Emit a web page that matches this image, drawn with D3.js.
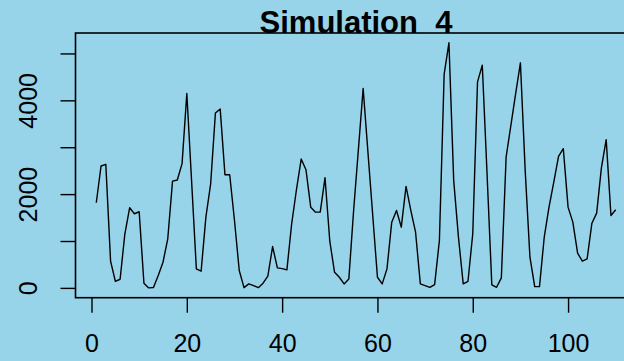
<!DOCTYPE html>
<html>
<head>
<meta charset="utf-8">
<script src="https://cdn.jsdelivr.net/npm/d3@7"></script>
<style>
  html, body { margin: 0; padding: 0; background: #97d3e9; }
  svg { display: block; }
  text { font-family: "Liberation Sans", Arial, Helvetica, sans-serif; fill: #000; }
</style>
</head>
<body>
<svg id="chart" width="624" height="361"></svg>
<script>
// Simulated series, one value per step (1..110)
const steps = d3.range(1, 111);
const values = [
  1816, 2600, 2635, 570, 141, 184, 1154, 1709, 1581, 1624,
  100, 0, 8, 263, 547, 1047, 2278, 2300, 2650, 4145,
  2278, 405, 356, 1510, 2220, 3730, 3817, 2414, 2414, 1438,
  370, 5, 85, 49, 5, 100, 250, 882, 427, 412,
  385, 1367, 2093, 2748, 2521, 1722, 1615, 1620, 2350, 996,
  333, 227, 85, 192, 1650, 2950, 4252, 2900, 1560, 227,
  85, 405, 1402, 1652, 1295, 2165, 1652, 1188, 85, 49,
  13, 70, 1010, 4560, 5227, 2293, 1081, 85, 141, 1154,
  4393, 4750, 2436, 64, 13, 214, 2791, 3468, 4145, 4800,
  2506, 654, 28, 28, 1081, 1722, 2256, 2806, 2970, 1722,
  1402, 740, 570, 620, 1380, 1594, 2564, 3162, 1545, 1667
];
const xTicks = [0, 20, 40, 60, 80, 100];
const yTicks = [0, 1000, 2000, 3000, 4000, 5000];
const yTickLabels = ["0", "", "2000", "", "4000", ""];
const titleText = "Simulation  4";

const svg = d3.select("#chart");
const W = 624, H = 361;
const plot = { left: 75.5, right: 636.5, top: 33, bottom: 297.7 };

svg.append("rect").attr("width", W).attr("height", H).attr("fill", "#97d3e9");

// R-style 4% padding around the data range
function padded(lo, hi) {
  const d = (hi - lo) * 0.04;
  return [lo - d, hi + d];
}

const x = d3.scaleLinear()
  .domain(padded(d3.min(steps), d3.max(steps)))
  .range([plot.left, plot.right]);
const y = d3.scaleLinear()
  .domain(padded(d3.min(values), d3.max(values)))
  .range([plot.bottom, plot.top]);

// data line
const line = d3.line()
  .x((d, i) => x(steps[i]))
  .y(d => y(d));
svg.append("path")
  .datum(values)
  .attr("d", line)
  .attr("fill", "none")
  .attr("stroke", "#000")
  .attr("stroke-width", 1.4)
  .attr("stroke-linejoin", "round");

// plot frame
svg.append("rect")
  .attr("x", plot.left).attr("y", plot.top)
  .attr("width", plot.right - plot.left)
  .attr("height", plot.bottom - plot.top)
  .attr("fill", "none")
  .attr("stroke", "#000")
  .attr("stroke-width", 1.6);

// bottom axis
const xAxis = d3.axisBottom(x)
  .tickValues(xTicks)
  .tickSize(15)
  .tickPadding(22)
  .tickFormat(d3.format("d"));
const gx = svg.append("g")
  .attr("transform", `translate(0,${plot.bottom})`)
  .call(xAxis);
gx.select(".domain").remove();
gx.selectAll(".tick line").attr("stroke", "#000").attr("stroke-width", 1.4);
gx.selectAll(".tick text")
  .attr("font-size", 25)
  .attr("font-family", "Liberation Sans, Arial, sans-serif")
  .attr("fill", "#000");

// left axis
const yAxis = d3.axisLeft(y)
  .tickValues(yTicks)
  .tickSize(15)
  .tickFormat((d, i) => yTickLabels[i]);
const gy = svg.append("g")
  .attr("transform", `translate(${plot.left},0)`)
  .call(yAxis);
gy.select(".domain").remove();
gy.selectAll(".tick line").attr("stroke", "#000").attr("stroke-width", 1.4);
gy.selectAll(".tick text")
  .attr("font-size", 25)
  .attr("font-family", "Liberation Sans, Arial, sans-serif")
  .attr("fill", "#000")
  .attr("x", 0).attr("dy", null)
  .attr("text-anchor", "middle")
  .attr("transform", `translate(${36.7 - plot.left},0) rotate(-90)`);

// title
svg.append("text")
  .attr("x", (plot.left + plot.right) / 2)
  .attr("y", 32.5)
  .attr("text-anchor", "middle")
  .attr("font-size", 31)
  .attr("font-weight", "bold")
  .style("white-space", "pre")
  .text(titleText);
</script>
</body>
</html>
